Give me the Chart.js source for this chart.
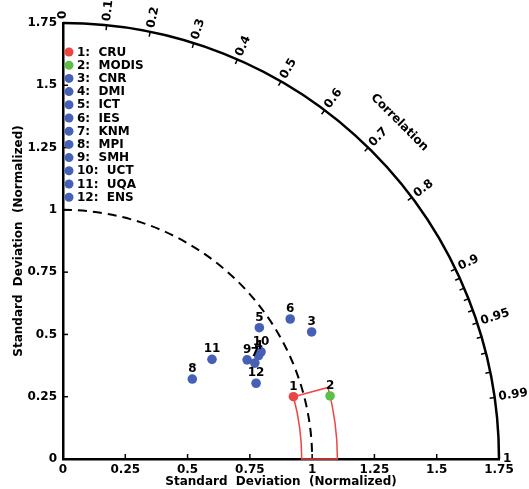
<!DOCTYPE html>
<html>
<head>
<meta charset="utf-8">
<script src="https://cdn.jsdelivr.net/npm/chart.js@4/dist/chart.umd.min.js"></script>
<style>
  body { margin: 0; background: #fff; }
  canvas { display: block; }
</style>
</head>
<body>
<canvas id="taylor" width="529" height="489"></canvas>
<script>
// models: names, normalized std split into x (std*corr) and y (std*sin) components
const names = ["CRU", "MODIS", "CNR", "DMI", "ICT", "IES", "KNM", "MPI", "SMH", "UCT", "UQA", "ENS"];
const sdX = [0.925, 1.072, 0.998, 0.785, 0.788, 0.912, 0.770, 0.519, 0.739, 0.795, 0.598, 0.775];
const sdY = [0.250, 0.253, 0.510, 0.415, 0.527, 0.562, 0.385, 0.321, 0.398, 0.430, 0.400, 0.304];
const colors = ["#ee4444", "#5cbf4a", "#4660b6", "#4660b6", "#4660b6", "#4660b6",
  "#4660b6", "#4660b6", "#4660b6", "#4660b6", "#4660b6", "#4660b6"];

const sdTicks = [0, 0.25, 0.5, 0.75, 1, 1.25, 1.5, 1.75];
const corrTicks = [0, 0.1, 0.2, 0.3, 0.4, 0.5, 0.6, 0.7, 0.8, 0.9, 0.95, 0.99, 1];
const corrMinor = [0.91, 0.92, 0.93, 0.94, 0.96, 0.97, 0.98];
const sdMax = 1.75;
const refStd = 1;

const FONT = "DejaVu Sans";
const BLUE = "#4660b6";

const points = sdX.map((x, i) => ({ x: x, y: sdY[i] }));

function fmt(v) { return String(+v.toFixed(2)); }

const taylorPlugin = {
  id: "taylor",
  beforeDatasetsDraw(chart) {
    const ctx = chart.ctx;
    const xs = chart.scales.x, ys = chart.scales.y;
    const ox = xs.getPixelForValue(0), oy = ys.getPixelForValue(0);
    const rpx = r => xs.getPixelForValue(r) - ox;
    ctx.save();

    // axis ticks pointing inward
    ctx.strokeStyle = "#000";
    ctx.lineWidth = 1.5;
    sdTicks.forEach(t => {
      const px = xs.getPixelForValue(t), py = ys.getPixelForValue(t);
      ctx.beginPath(); ctx.moveTo(px, oy); ctx.lineTo(px, oy - 5); ctx.stroke();
      ctx.beginPath(); ctx.moveTo(ox, py); ctx.lineTo(ox + 5, py); ctx.stroke();
    });

    // outer arc
    const R = rpx(sdMax);
    ctx.lineWidth = 2.5;
    ctx.beginPath();
    ctx.arc(ox, oy, R, -Math.PI / 2, 0);
    ctx.stroke();

    // reference arc (dashed)
    ctx.lineWidth = 2;
    ctx.setLineDash([9, 6]);
    ctx.beginPath();
    ctx.arc(ox, oy, rpx(refStd), -Math.PI / 2, 0);
    ctx.stroke();
    ctx.setLineDash([]);

    // correlation ticks and labels
    ctx.lineWidth = 1.5;
    const tick = (c, len) => {
      const th = Math.acos(c);
      ctx.beginPath();
      ctx.moveTo(ox + R * Math.cos(th), oy - R * Math.sin(th));
      ctx.lineTo(ox + (R - len) * Math.cos(th), oy - (R - len) * Math.sin(th));
      ctx.stroke();
    };
    corrTicks.forEach(c => tick(c, 5));
    corrMinor.forEach(c => tick(c, 5));

    ctx.fillStyle = "#000";
    ctx.font = "bold 12px '" + FONT + "'";
    ctx.textAlign = "left";
    ctx.textBaseline = "middle";
    corrTicks.forEach(c => {
      const th = Math.acos(c);
      ctx.save();
      ctx.translate(ox + (R + 4) * Math.cos(th), oy - (R + 4) * Math.sin(th));
      ctx.rotate(-th);
      ctx.fillText(fmt(c), 0, 0);
      ctx.restore();
    });

    // "Correlation" label
    const thc = Math.PI / 4, rc = rpx(1.91);
    ctx.save();
    ctx.translate(ox + rc * Math.cos(thc), oy - rc * Math.sin(thc));
    ctx.rotate(Math.PI / 2 - thc);
    ctx.textAlign = "center";
    ctx.font = "bold 12px '" + FONT + "'";
    ctx.fillText("Correlation", 0, 0);
    ctx.restore();

    // observational range sector between CRU and MODIS
    const r1 = Math.hypot(sdX[0], sdY[0]);
    const r2 = Math.hypot(sdX[1], sdY[1]);
    const a1 = Math.atan2(sdY[0], sdX[0]);
    ctx.strokeStyle = "#ee4444";
    ctx.lineWidth = 1.5;
    ctx.beginPath();
    ctx.moveTo(ox + rpx(r1), oy);
    ctx.arc(ox, oy, rpx(r1), 0, -a1, true);
    ctx.lineTo(ox + rpx(r2) * Math.cos(a1), oy - rpx(r2) * Math.sin(a1));
    ctx.arc(ox, oy, rpx(r2), -a1, 0, false);
    ctx.closePath();
    ctx.stroke();

    ctx.restore();
  },
  afterDatasetsDraw(chart) {
    const ctx = chart.ctx;
    const xs = chart.scales.x, ys = chart.scales.y;
    ctx.save();
    ctx.fillStyle = "#000";
    ctx.font = "bold 12px '" + FONT + "'";
    ctx.textAlign = "center";
    ctx.textBaseline = "alphabetic";
    points.forEach((p, i) => {
      ctx.fillText(String(i + 1), xs.getPixelForValue(p.x), ys.getPixelForValue(p.y) - 7);
    });

    // legend
    const lx = chart.chartArea.left + 6, ly0 = 52, step = 13.2;
    ctx.textAlign = "left";
    ctx.textBaseline = "middle";
    names.forEach((n, i) => {
      const y = ly0 + i * step;
      ctx.fillStyle = colors[i];
      ctx.beginPath(); ctx.arc(lx, y, 4.5, 0, Math.PI * 2); ctx.fill();
      ctx.fillStyle = "#000";
      ctx.fillText((i + 1) + ":  " + n, lx + 8, y + 0.5);
    });
    ctx.restore();
  }
};

new Chart(document.getElementById("taylor"), {
  type: "scatter",
  data: {
    datasets: [{
      label: "models",
      data: points,
      pointRadius: 4.8,
      pointHoverRadius: 4.8,
      pointBorderWidth: 0,
      pointBackgroundColor: colors,
      pointBorderColor: colors
    }]
  },
  options: {
    responsive: false,
    animation: false,
    layout: { padding: { top: 23, right: 30, left: 0, bottom: 0 } },
    plugins: { legend: { display: false }, tooltip: { enabled: false } },
    scales: {
      x: {
        type: "linear", min: 0, max: sdMax,
        afterBuildTicks: s => { s.ticks = sdTicks.map(v => ({ value: v })); },
        afterFit: s => { s.height = 30; },
        grid: { display: false, drawTicks: false },
        border: { display: true, color: "#000", width: 2.5 },
        ticks: { color: "#000", padding: 4, maxRotation: 0, font: { family: FONT, size: 12, weight: "bold" }, callback: v => fmt(v) },
        title: { display: true, text: "Standard  Deviation  (Normalized)", color: "#000", padding: { top: 0, bottom: 0 }, font: { family: FONT, size: 12, weight: "bold" } }
      },
      y: {
        type: "linear", min: 0, max: sdMax,
        afterBuildTicks: s => { s.ticks = sdTicks.map(v => ({ value: v })); },
        afterFit: s => { s.width = 63; },
        grid: { display: false, drawTicks: false },
        border: { display: true, color: "#000", width: 2.5 },
        ticks: { color: "#000", padding: 6, font: { family: FONT, size: 12, weight: "bold" }, callback: v => fmt(v) },
        title: { display: true, text: "Standard  Deviation  (Normalized)", color: "#000", padding: { top: 12, bottom: 0 }, font: { family: FONT, size: 12, weight: "bold" } }
      }
    }
  },
  plugins: [taylorPlugin]
});
</script>
</body>
</html>
